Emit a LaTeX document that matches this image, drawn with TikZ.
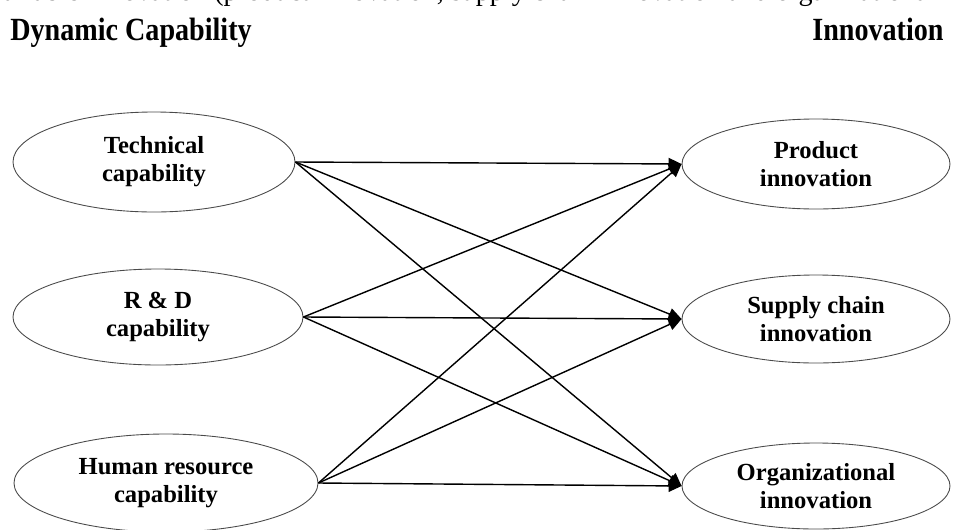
\documentclass[tikz,border=0pt]{standalone}
\usepackage{fontspec}
\setmainfont{Liberation Serif}
\usepackage{tikz}
\usetikzlibrary{arrows.meta, shapes.geometric}
\definecolor{ink}{HTML}{000000}
\definecolor{rim}{HTML}{4A4A4A}
\tikzset{
  nodebase/.style={font=\fontsize{14}{16}\selectfont\bfseries, text=ink},
  construct/.style={nodebase, ellipse, draw=rim, line width=0.5pt, fill=white,
    align=center, inner sep=0pt},
  heading/.style={font=\fontsize{16}{18}\selectfont\bfseries, text=ink,
    anchor=base west, inner sep=0pt, yscale=1.15},
  runtext/.style={font=\fontsize{16}{18}\selectfont, text=ink,
    anchor=base west, inner sep=0pt},
  arrow/.style={-{Triangle[length=2.6mm, width=2.4mm]}, draw=ink, line width=0.8pt}
}

\begin{document}
\begin{tikzpicture}[x=1cm,y=1cm]
\useasboundingbox (0,0) rectangle (19.06,10.58);
\clip (0,0) rectangle (19.06,10.58);

% Cut-off text line and headings
\node[runtext] (cutline) at (-0.22,10.57)
  {variable innovation (product innovation, supply chain innovation and organizational innovation)};
\node[heading] (lefthead) at (0.20,9.78) {Dynamic Capability};
\node[heading] (righthead) at (16.24,9.78) {Innovation};

% Dynamic capability
\node[construct, minimum width=5.64cm, minimum height=2.00cm] (tech) at (3.08,7.34)
  {Technical\\capability};
\node[construct, minimum width=5.80cm, minimum height=1.92cm] (rnd) at (3.16,4.24)
  {R \& D\\capability};
\node[construct, minimum width=6.08cm, minimum height=1.96cm] (human) at (3.32,0.92)
  {Human resource\\capability};

% Innovation
\node[construct, minimum width=5.36cm, minimum height=1.80cm] (product) at (16.32,7.30)
  {Product\\innovation};
\node[construct, minimum width=5.36cm, minimum height=1.76cm] (supply) at (16.32,4.20)
  {Supply chain\\innovation};
\node[construct, minimum width=5.36cm, minimum height=1.72cm] (org) at (16.32,0.86)
  {Organizational\\innovation};

% Paths
\draw[arrow] (tech.east) -- (product.west);
\draw[arrow] (tech.east) -- (supply.west);
\draw[arrow] (tech.east) -- (org.west);
\draw[arrow] (rnd.east) -- (product.west);
\draw[arrow] (rnd.east) -- (supply.west);
\draw[arrow] (rnd.east) -- (org.west);
\draw[arrow] (human.east) -- (product.west);
\draw[arrow] (human.east) -- (supply.west);
\draw[arrow] (human.east) -- (org.west);

\end{tikzpicture}
\end{document}
